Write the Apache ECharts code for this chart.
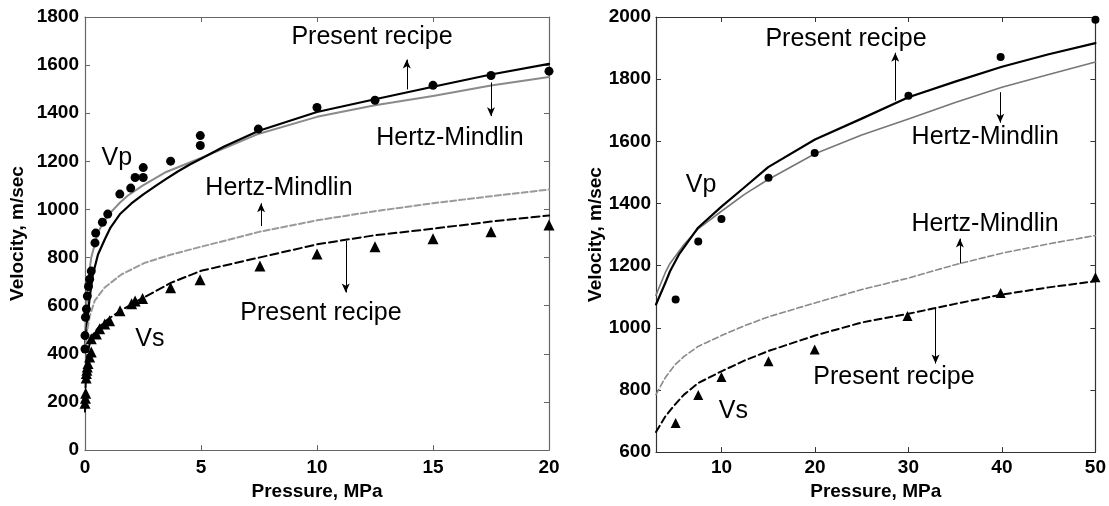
<!DOCTYPE html>
<html>
<head>
<meta charset="utf-8">
<script src="https://cdn.jsdelivr.net/npm/echarts@6/dist/echarts.min.js"></script>
<style>
  html, body { margin: 0; padding: 0; background: #ffffff; }
  #chart { width: 1109px; height: 506px; }
</style>
</head>
<body>
<div id="chart"></div>
<script>
// ---------- Left panel: 0–20 MPa ----------
const leftPressureTicks = [0, 5, 10, 15, 20];
const leftVelocityTicks = [0, 200, 400, 600, 800, 1000, 1200, 1400, 1600, 1800];

// measured velocities [pressure MPa, velocity m/s]
const leftVpMeasured = [
  [0.0, 420], [0.0, 476], [0.02, 552], [0.06, 586], [0.1, 640], [0.15, 680],
  [0.2, 710], [0.27, 744], [0.43, 861], [0.46, 902], [0.75, 947], [0.98, 981],
  [1.5, 1064], [1.97, 1089], [2.16, 1133], [2.51, 1133], [2.51, 1174], [3.69, 1201],
  [4.97, 1266], [4.97, 1307], [7.47, 1334], [10, 1424], [12.5, 1454], [15, 1516],
  [17.5, 1557], [20, 1575]
];
const leftVsMeasured = [
  [0.0, 195], [0.02, 215], [0.03, 236], [0.05, 300], [0.06, 318], [0.08, 332],
  [0.1, 345], [0.13, 360], [0.2, 387], [0.27, 408], [0.27, 463], [0.49, 483],
  [0.63, 504], [0.85, 524], [1.06, 538], [1.51, 579], [2.01, 608], [2.16, 620],
  [2.48, 630], [3.69, 675], [4.96, 708], [7.54, 765], [10, 815], [12.5, 845],
  [15, 878], [17.5, 907], [20, 936]
];

// model curves
const leftVpPresent = [
  [0.0, 440], [0.1, 538], [0.2, 634], [0.34, 730], [0.56, 813], [0.85, 875],
  [1.1, 925], [1.5, 980], [2.0, 1025], [2.5, 1062], [3.0, 1095], [3.5, 1127],
  [4.0, 1158], [4.5, 1186], [5, 1211], [6, 1262], [7.5, 1327], [10, 1405],
  [12.5, 1458], [15, 1510], [17.5, 1561], [20, 1605]
];
const leftVpHertz = [
  [0.0, 480], [0.06, 593], [0.13, 703], [0.27, 800], [0.56, 905], [0.85, 955],
  [1.13, 990], [1.5, 1028], [1.85, 1058], [2.5, 1100], [3.5, 1156], [5, 1214],
  [7.5, 1315], [10, 1385], [12.5, 1433], [15, 1472], [17.5, 1515], [20, 1551]
];
const leftVsHertz = [
  [0.0, 430], [0.1, 500], [0.2, 555], [0.42, 621], [0.85, 676], [1.57, 730],
  [2.57, 778], [3.72, 813], [5, 845], [7.5, 907], [10, 955], [12.5, 993],
  [15, 1026], [17.5, 1055], [20, 1083]
];
const leftVsPresent = [
  [0.0, 160], [0.02, 250], [0.05, 330], [0.1, 400], [0.27, 470], [0.56, 507],
  [1.0, 545], [1.57, 582], [2.28, 621], [3.72, 696], [5, 745], [7.5, 800],
  [10, 855], [12.5, 893], [15, 920], [17.5, 950], [20, 975]
];

const leftNotes = [
  { name: 'Present recipe', value: [12.37, 1718] },
  { name: 'Hertz-Mindlin', value: [15.73, 1295] },
  { name: 'Vp', value: [1.37, 1215] },
  { name: 'Hertz-Mindlin', value: [8.36, 1087] },
  { name: 'Present recipe', value: [10.17, 568] },
  { name: 'Vs', value: [2.8, 461] }
];
const leftArrows = [
  [[13.87, 1499], [13.87, 1623]],
  [[17.5, 1528], [17.5, 1388]],
  [[7.59, 931], [7.59, 1026]],
  [[11.24, 869], [11.24, 655]]
];

// ---------- Right panel: up to 50 MPa ----------
const rightPressureRange = [3, 50];
const rightPressureTicks = [10, 20, 30, 40, 50];
const rightVelocityTicks = [600, 800, 1000, 1200, 1400, 1600, 1800, 2000];

const rightVpMeasured = [
  [5.1, 1091], [7.52, 1278], [10, 1350], [15.03, 1483], [19.97, 1562],
  [30, 1747], [39.86, 1871], [50, 1991]
];
const rightVsMeasured = [
  [5.1, 694], [7.52, 784], [10, 842], [15.03, 892], [19.97, 930],
  [29.9, 1038], [39.86, 1112], [50, 1163]
];
const rightVpPresent = [
  [3, 1075], [4, 1145], [4.5, 1182], [5.5, 1238], [7.5, 1322], [10, 1390],
  [12.5, 1453], [15, 1517], [20, 1606], [25, 1673], [30, 1742], [35, 1792],
  [40, 1840], [45, 1880], [50, 1916]
];
const rightVpHertz = [
  [3, 1105], [4, 1178], [4.5, 1207], [6, 1268], [7.5, 1318], [10, 1375],
  [12.5, 1430], [15, 1477], [20, 1560], [25, 1620], [30, 1672], [35, 1725],
  [40, 1774], [45, 1815], [50, 1855]
];
const rightVsHertz = [
  [3, 785], [4, 840], [5, 880], [6, 908], [7.5, 940], [10, 975],
  [12.5, 1007], [15, 1035], [20, 1080], [25, 1123], [30, 1160], [35, 1203],
  [40, 1240], [45, 1270], [50, 1297]
];
const rightVsPresent = [
  [3, 665], [4, 715], [5, 752], [6, 785], [7.5, 822], [10, 860],
  [12.5, 895], [15, 925], [20, 975], [25, 1017], [30, 1045], [35, 1077],
  [40, 1107], [45, 1130], [50, 1150]
];

const rightNotes = [
  { name: 'Present recipe', value: [23.32, 1930] },
  { name: 'Hertz-Mindlin', value: [38.21, 1614] },
  { name: 'Vp', value: [7.82, 1460] },
  { name: 'Hertz-Mindlin', value: [38.19, 1333] },
  { name: 'Present recipe', value: [28.45, 841] },
  { name: 'Vs', value: [11.27, 733] }
];
const rightArrows = [
  [[28.59, 1731], [28.59, 1885]],
  [[39.82, 1758], [39.82, 1660]],
  [[35.5, 1207], [35.5, 1287]],
  [[32.9, 1065], [32.9, 885]]
];

// ---------- styling helpers ----------
const FONT = '"Liberation Sans", Arial, Helvetica, sans-serif';
const tickFont = { fontFamily: FONT, fontWeight: 'bold', fontSize: 19, color: '#000' };
const plain = v => String(v);

function bottomAxis(gridIndex, min, max, color, extra) {
  return Object.assign({
    type: 'value', gridIndex, min, max, position: 'bottom',
    name: 'Pressure, MPa', nameLocation: 'middle',
    nameTextStyle: { fontFamily: FONT, fontWeight: 'bold', fontSize: 19, color: '#000' },
    axisLine: { show: true, onZero: false, lineStyle: { color, width: 1.2 } },
    axisTick: { show: true, inside: true, length: 5, lineStyle: { color } },
    axisLabel: Object.assign({ formatter: plain }, tickFont),
    splitLine: { show: false }
  }, extra);
}
function leftAxis(gridIndex, ticks, color, extra) {
  return Object.assign({
    type: 'value', gridIndex, min: ticks[0], max: ticks[ticks.length - 1],
    interval: ticks[1] - ticks[0], position: 'left',
    name: 'Velocity, m/sec', nameLocation: 'middle', nameRotate: 90,
    nameTextStyle: { fontFamily: FONT, fontWeight: 'bold', fontSize: 19, color: '#000' },
    axisLine: { show: true, onZero: false, lineStyle: { color, width: 1.2 } },
    axisTick: { show: true, inside: true, length: 5, lineStyle: { color } },
    axisLabel: Object.assign({ formatter: plain }, tickFont),
    splitLine: { show: false }
  }, extra);
}
function frameX(gridIndex, min, max, color, tickExtra) {
  return {
    type: 'value', gridIndex, min, max, position: 'top',
    axisLine: { show: true, onZero: false, lineStyle: { color, width: 1.2 } },
    axisTick: Object.assign({ show: true, inside: true, length: 5, lineStyle: { color } }, tickExtra || {}),
    axisLabel: { show: false }, splitLine: { show: false }
  };
}
function frameY(gridIndex, ticks, color) {
  return {
    type: 'value', gridIndex, min: ticks[0], max: ticks[ticks.length - 1],
    interval: ticks[1] - ticks[0], position: 'right',
    axisLine: { show: true, onZero: false, lineStyle: { color, width: 1.2 } },
    axisTick: { show: true, inside: true, length: 5, lineStyle: { color } },
    axisLabel: { show: false }, splitLine: { show: false }
  };
}

function curve(data, xi, yi, color, width, dash) {
  return {
    type: 'line', data, xAxisIndex: xi, yAxisIndex: yi,
    showSymbol: false, smooth: false, silent: true,
    lineStyle: { color, width, type: dash || 'solid', cap: 'round', join: 'round' }, z: 3
  };
}
function points(data, xi, yi, symbol, size) {
  return {
    type: 'scatter', data, xAxisIndex: xi, yAxisIndex: yi,
    symbol, symbolSize: size, silent: true, clip: false,
    itemStyle: { color: '#000', opacity: 1 }, z: 4
  };
}
function notes(data, arrows, xi, yi) {
  return {
    type: 'scatter', data, xAxisIndex: xi, yAxisIndex: yi,
    symbolSize: 1, silent: true, itemStyle: { color: 'rgba(0,0,0,0)', opacity: 1 }, z: 5,
    label: {
      show: true, position: 'inside', formatter: '{b}', color: '#000', opacity: 1,
      fontFamily: FONT, fontSize: 25, align: 'center', verticalAlign: 'middle'
    },
    markLine: {
      silent: true, animation: false, symbol: ['none', 'arrow'], symbolSize: [6, 9],
      label: { show: false }, emphasis: { disabled: true },
      lineStyle: { color: '#000', width: 1, type: 'solid', opacity: 1 },
      data: arrows.map(a => [{ coord: a[0] }, { coord: a[1] }])
    }
  };
}

const leftColor = '#666666';
const rightColor = '#333333';

const option = {
  animation: false,
  backgroundColor: '#ffffff',
  grid: [
    { left: 85, top: 17, width: 464, height: 437 },
    { left: 656, top: 17, width: 442, height: 441 }
  ],
  xAxis: [
    bottomAxis(0, leftPressureTicks[0], leftPressureTicks[leftPressureTicks.length - 1], leftColor,
      { interval: leftPressureTicks[1] - leftPressureTicks[0], nameGap: 28,
        axisLabel: Object.assign({ formatter: plain, margin: 8 }, tickFont) }),
    frameX(0, leftPressureTicks[0], leftPressureTicks[leftPressureTicks.length - 1], leftColor),
    bottomAxis(1, rightPressureRange[0], rightPressureRange[1], rightColor,
      { nameGap: 26,
        axisTick: { show: true, inside: true, length: 5, lineStyle: { color: rightColor }, customValues: rightPressureTicks },
        axisLabel: Object.assign({ formatter: plain, margin: 6, customValues: rightPressureTicks }, tickFont) }),
    frameX(1, rightPressureRange[0], rightPressureRange[1], rightColor, { customValues: rightPressureTicks })
  ],
  yAxis: [
    leftAxis(0, leftVelocityTicks, leftColor, { nameGap: 58, axisLabel: Object.assign({ formatter: plain, margin: 6 }, tickFont) }),
    frameY(0, leftVelocityTicks, leftColor),
    leftAxis(1, rightVelocityTicks, rightColor, { nameGap: 50, axisLabel: Object.assign({ formatter: plain, margin: 5 }, tickFont) }),
    frameY(1, rightVelocityTicks, rightColor)
  ],
  series: [
    // left panel
    curve(leftVpHertz, 0, 0, '#8a8a8a', 2),
    curve(leftVpPresent, 0, 0, '#000000', 2.2),
    curve(leftVsHertz, 0, 0, '#9a9a9a', 2, [6, 3]),
    curve(leftVsPresent, 0, 0, '#000000', 2, [8, 4]),
    points(leftVpMeasured, 0, 0, 'circle', 9),
    points(leftVsMeasured, 0, 0, 'triangle', 11),
    notes(leftNotes, leftArrows, 0, 0),
    // right panel
    curve(rightVpHertz, 2, 2, '#777777', 1.6),
    curve(rightVpPresent, 2, 2, '#000000', 2.2),
    curve(rightVsHertz, 2, 2, '#8a8a8a', 1.6, [6, 3]),
    curve(rightVsPresent, 2, 2, '#000000', 2, [7, 4]),
    points(rightVpMeasured, 2, 2, 'circle', 8),
    points(rightVsMeasured, 2, 2, 'triangle', 10),
    notes(rightNotes, rightArrows, 2, 2)
  ]
};

const chart = echarts.init(document.getElementById('chart'));
chart.setOption(option);
</script>
</body>
</html>
